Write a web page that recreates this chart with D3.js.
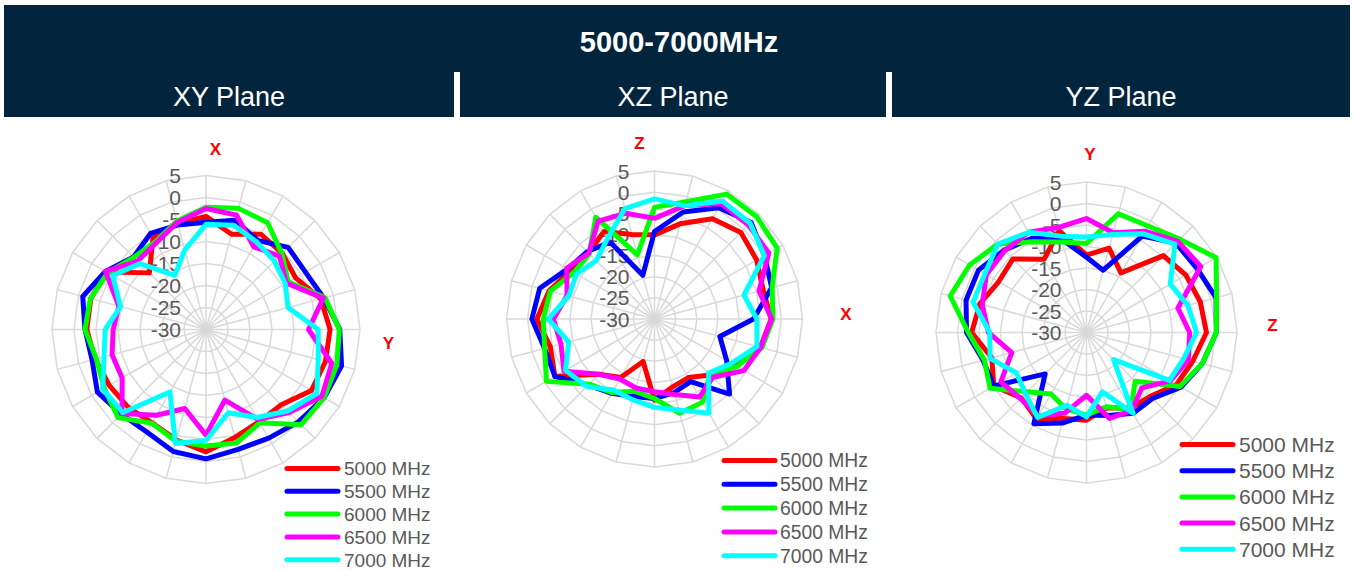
<!DOCTYPE html>
<html>
<head>
<meta charset="utf-8">
<script src="https://cdn.jsdelivr.net/npm/d3@7"></script>
<style>
  html, body { margin: 0; padding: 0; background: #ffffff; }
  svg { display: block; font-family: "Liberation Sans", Arial, sans-serif; }
</style>
</head>
<body>
<svg id="chart" width="1354" height="571"></svg>
<script>
// ---------- DATA ----------
const title = "5000-7000MHz";
const planeNames = ["XY Plane", "XZ Plane", "YZ Plane"];
const angleCategories = [0, 15, 30, 45, 60, 75, 90, 105, 120, 135, 150, 165, 180, 195, 210, 225, 240, 255, 270, 285, 300, 315, 330, 345];
const seriesNames = ["5000 MHz", "5500 MHz", "6000 MHz", "6500 MHz", "7000 MHz"];
const seriesColors = ["#ff0000", "#0000ff", "#00ff00", "#ff00ff", "#00ffff"];
const tickLabels = [5, 0, -5, -10, -15, -20, -25, -30];

// XY plane (dB)
const xy5000 = [-4.3, -7.6, -5.0, -5.5, -6.5, -3.0, -1.8, -1.9, -2.3, -5.8, -5.8, -4.6, -2.2, -4.0, -5.5, -5.0, -4.6, -3.9, -2.9, -2.9, -3.9, -11.8, -5.9, -5.0];
const xy5500 = [-5.6, -4.3, -6.6, -3.6, -3.9, -2.3, 0.4, 1.9, 1.0, -0.3, -1.5, -1.8, -0.6, -1.3, -3.1, -2.8, -1.5, -3.2, -2.5, -1.0, -3.6, -6.7, -4.8, -5.4];
const xy6000 = [-2.2, -1.5, -2.0, -5.6, -8.4, -2.0, 0.3, 0.8, 1.0, 0.6, -5.5, -3.3, -3.5, -3.7, -5.4, -1.7, -3.3, -4.2, -2.5, -2.8, -4.2, -6.8, -7.0, -4.5];
const xy6500 = [-2.5, -3.1, -8.3, -6.4, -8.9, -2.4, -6.7, -0.4, 0.4, -3.3, -6.4, -13.4, -6.0, -11.4, -7.5, -3.0, -8.0, -7.9, -8.9, -9.5, -3.6, -8.0, -7.3, -4.8];
const xy7000 = [-6.1, -5.5, -7.0, -8.0, -9.2, -10.7, -4.5, -3.6, -0.9, -3.8, -6.9, -10.4, -4.8, -3.2, -13.6, -3.3, -2.9, -6.0, -7.1, -9.9, -5.5, -8.8, -15.8, -11.3];

// XZ plane (dB)
const xz5000 = [-10.1, -6.7, -2.6, -1.1, -2.1, -3.4, -2.4, -4.1, -7.9, -11.3, -14.0, -13.4, -10.8, -19.6, -14.0, -11.5, -2.8, -4.5, -2.2, -4.2, -7.1, -7.9, -6.1, -9.3];
const xz5500 = [-9.3, -3.8, 0.4, 2.3, 0.0, -1.3, -6.6, -14.0, -10.3, -4.9, -12.9, -12.0, -11.2, -11.0, -9.7, -7.9, -2.8, -3.1, -1.0, -1.9, -6.3, -7.5, -9.0, -19.3];
const xz6000 = [-3.6, -1.3, 4.1, 4.2, 3.5, -1.2, -2.0, -3.7, -7.5, -11.5, -7.3, -6.9, -11.2, -12.3, -9.9, -8.2, -0.5, -3.1, -3.7, -4.5, -8.0, -8.2, -2.2, -14.3];
const xz6500 = [-6.2, -2.2, 1.5, 1.4, 1.2, -4.4, -2.3, -4.0, -5.6, -10.5, -8.7, -11.5, -12.8, -13.1, -13.6, -11.5, -5.3, -7.1, -6.1, -8.6, -6.0, -8.0, -3.3, -4.1];
const xz7000 = [-1.6, -2.3, 2.2, 2.0, 0.0, -8.1, -5.8, -4.9, -9.0, -11.9, -4.3, -7.7, -9.1, -10.2, -10.6, -7.4, -5.7, -9.0, -4.9, -9.0, -8.7, -10.5, -7.9, -3.0];

// YZ plane (dB)
const yz5000 = [-12.0, -9.7, -14.0, -4.7, -3.3, -2.6, -2.1, -4.4, -5.8, -9.0, -9.7, -11.9, -9.6, -9.3, -6.8, -8.5, -5.1, -7.2, -3.3, -4.3, -6.4, -5.8, -10.3, -5.5];
const yz5500 = [-12.5, -15.0, -4.1, -0.6, -0.3, 1.2, 0.2, -2.1, -4.6, -8.3, -8.3, -10.0, -10.8, -8.2, -5.5, -16.4, -5.1, -5.1, -2.1, -1.0, -1.0, -2.9, -4.7, -7.5];
const yz6000 = [-9.3, -1.4, -1.4, 0.7, 4.8, 1.3, 0.2, -2.1, -4.9, -14.0, -9.3, -12.1, -10.8, -11.6, -13.5, -10.5, -4.1, -5.4, -2.5, 2.8, 1.4, -0.9, -5.6, -8.2];
const yz6500 = [-3.5, -6.0, -2.8, 0.0, 0.7, -8.0, -6.0, -5.5, -7.5, -11.8, -9.0, -9.3, -15.4, -10.6, -7.6, -8.3, -7.0, -12.0, -7.2, -4.9, -3.1, -3.1, -3.1, -4.7];
const yz7000 = [-7.8, -6.4, -3.5, -0.9, -7.5, -5.6, -4.4, -6.6, -7.7, -21.1, -8.3, -15.7, -10.4, -12.5, -7.2, -9.9, -11.2, -6.8, -7.5, -2.7, -2.7, -0.9, -3.1, -6.8];

// ---------- LAYOUT ----------
const svg = d3.select("#chart");

// header band
svg.append("rect").attr("x", 4).attr("y", 5).attr("width", 1346).attr("height", 112).attr("fill", "#02253d");
svg.append("rect").attr("x", 454).attr("y", 72).attr("width", 6).attr("height", 46).attr("fill", "#ffffff");
svg.append("rect").attr("x", 886).attr("y", 72).attr("width", 6).attr("height", 46).attr("fill", "#ffffff");
svg.append("text").attr("x", 679).attr("y", 52).attr("text-anchor", "middle")
  .attr("fill", "#ffffff").attr("font-weight", "bold").attr("font-size", 29).text(title);
const bandCenters = [229, 673, 1121];
planeNames.forEach((p, i) => {
  svg.append("text").attr("x", bandCenters[i]).attr("y", 106).attr("text-anchor", "middle")
    .attr("fill", "#ffffff").attr("font-size", 27).text(p);
});

const charts = [
  { cx: 206, cy: 329.5, R: 154, series: [xy5000, xy5500, xy6000, xy6500, xy7000],
    axisLabels: [{t: "X", x: 215.5, y: 148.5}, {t: "Y", x: 388.5, y: 343}],
    legend: { x1: 287, x2: 338, tx: 344, y0: 468.5, dy: 22.8, fs: 19 } },
  { cx: 654.5, cy: 319, R: 148, series: [xz5000, xz5500, xz6000, xz6500, xz7000],
    axisLabels: [{t: "Z", x: 639.5, y: 143}, {t: "X", x: 846, y: 313.5}],
    legend: { x1: 724, x2: 775, tx: 780, y0: 460.5, dy: 23.8, fs: 19.3 } },
  { cx: 1086.5, cy: 332.5, R: 150.5, series: [yz5000, yz5500, yz6000, yz6500, yz7000],
    axisLabels: [{t: "Y", x: 1090, y: 153.5}, {t: "Z", x: 1272.5, y: 325}],
    legend: { x1: 1182, x2: 1233, tx: 1239, y0: 444.5, dy: 26.2, fs: 21 } }
];

const angle = d3.scaleLinear().domain([0, 360]).range([0, 2 * Math.PI]);

charts.forEach(c => {
  const g = svg.append("g").attr("transform", `translate(${c.cx},${c.cy})`);
  const r = d3.scaleLinear().domain([-30, 5]).range([0, c.R]);

  // grid rings (polygons)
  const ringLine = d3.lineRadial().curve(d3.curveLinearClosed)
    .angle(d => angle(d.a)).radius(d => r(d.v));
  tickLabels.filter(t => t > -30).forEach(t => {
    g.append("path")
      .attr("d", ringLine(angleCategories.map(a => ({a, v: t}))))
      .attr("fill", "none").attr("stroke", "#d9d9d9").attr("stroke-width", 1.5);
  });
  // spokes
  angleCategories.forEach(a => {
    const th = angle(a);
    g.append("line").attr("x1", 0).attr("y1", 0)
      .attr("x2", r(5) * Math.sin(th)).attr("y2", -r(5) * Math.cos(th))
      .attr("stroke", "#d9d9d9").attr("stroke-width", 1.5);
  });
  // tick labels
  tickLabels.forEach(t => {
    g.append("text").attr("x", -25).attr("y", -r(t)).attr("dy", "0.36em")
      .attr("text-anchor", "end").attr("fill", "#595959").attr("font-size", 21).text(t);
  });

  // series lines
  const line = d3.lineRadial().curve(d3.curveLinearClosed)
    .angle((d, i) => angle(angleCategories[i])).radius(d => r(d));
  c.series.forEach((s, i) => {
    g.append("path").attr("d", line(s)).attr("fill", "none")
      .attr("stroke", seriesColors[i]).attr("stroke-width", 5)
      .attr("stroke-linejoin", "round").attr("stroke-linecap", "round");
  });

  // axis labels
  c.axisLabels.forEach(l => {
    svg.append("text").attr("x", l.x).attr("y", l.y).attr("dy", "0.36em")
      .attr("text-anchor", "middle").attr("fill", "#ff0000")
      .attr("font-weight", "bold").attr("font-size", 17).text(l.t);
  });

  // legend
  const L = c.legend;
  seriesNames.forEach((n, i) => {
    const y = L.y0 + i * L.dy;
    svg.append("line").attr("x1", L.x1).attr("x2", L.x2).attr("y1", y).attr("y2", y)
      .attr("stroke", seriesColors[i]).attr("stroke-width", 5).attr("stroke-linecap", "round");
    svg.append("text").attr("x", L.tx).attr("y", y).attr("dy", "0.36em")
      .attr("fill", "#595959").attr("font-size", L.fs).text(n);
  });
});
</script>
</body>
</html>
